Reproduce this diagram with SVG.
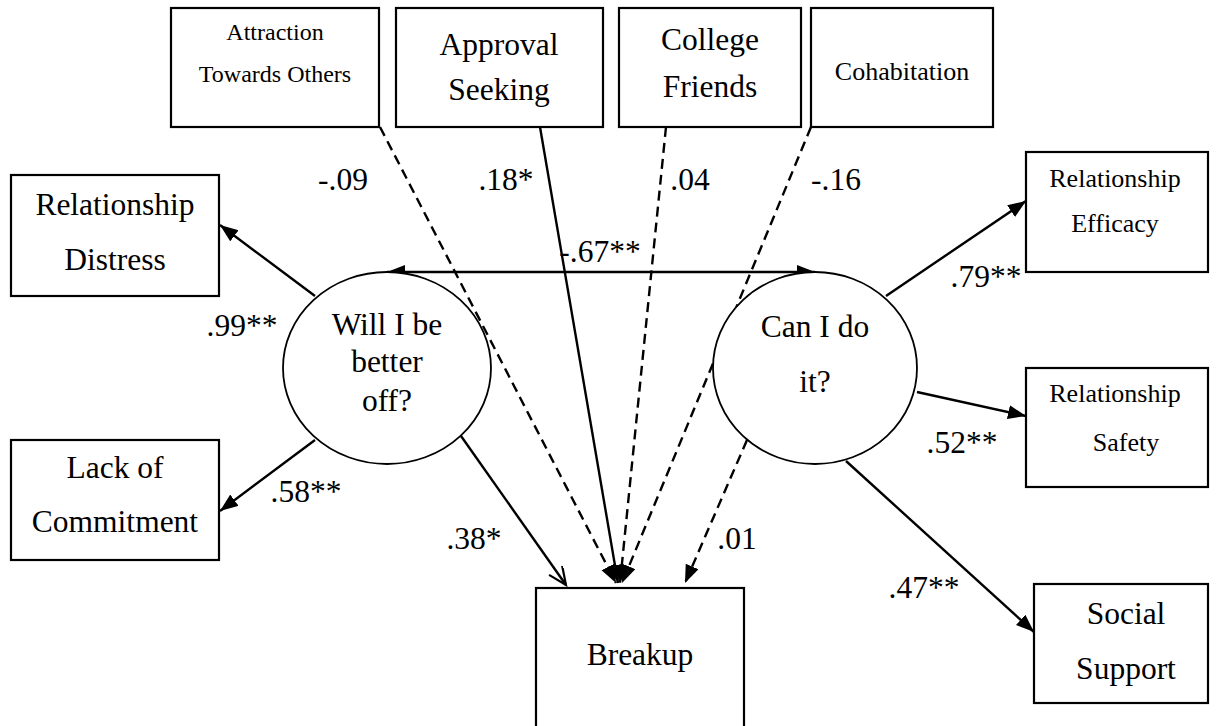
<svg xmlns="http://www.w3.org/2000/svg" width="1216" height="726" viewBox="0 0 1216 726" font-family="'Liberation Serif', 'Times New Roman', 'DejaVu Serif', serif">
<defs>
<style>
text{font-family:'Liberation Serif','Times New Roman','DejaVu Serif',serif;fill:#000;text-anchor:middle}
.big{font-size:31.5px}
.sm{font-size:26px}
.xs{font-size:24px}
.box{fill:#fff;stroke:#000;stroke-width:2.2}
.lat{fill:#fff;stroke:#000;stroke-width:1.8}
.ln{stroke:#000;stroke-width:2.4;fill:none}
.dash{stroke-dasharray:10 6}
</style>
<marker id="ah" markerUnits="userSpaceOnUse" markerWidth="20" markerHeight="16" refX="18" refY="7" orient="auto-start-reverse" viewBox="0 0 20 16">
<path d="M0,0 L18,7 L0,14 z" fill="#000"/>
</marker>
<marker id="open" markerUnits="userSpaceOnUse" markerWidth="22" markerHeight="18" refX="19" refY="8" orient="auto" viewBox="0 0 22 18">
<path d="M1,0 L19,8 L1,16" fill="none" stroke="#000" stroke-width="2.2"/>
</marker>
</defs>
<rect width="1216" height="726" fill="#fff"/>

<g id="connectors">
<line class="ln" x1="387" y1="272" x2="815" y2="272" marker-start="url(#ah)" marker-end="url(#ah)"/>
<line class="ln" x1="315" y1="296" x2="220" y2="225" marker-end="url(#ah)"/>
<line class="ln" x1="315" y1="440" x2="220" y2="511" marker-end="url(#ah)"/>
<line class="ln" x1="461" y1="436" x2="566" y2="585" marker-end="url(#open)"/>
<line class="ln dash" x1="380" y1="127" x2="616" y2="583" marker-end="url(#ah)"/>
<line class="ln" x1="540" y1="127" x2="618" y2="583" marker-end="url(#ah)"/>
<line class="ln dash" x1="666" y1="127" x2="620" y2="583" marker-end="url(#ah)"/>
<line class="ln dash" x1="811" y1="127" x2="622" y2="583" marker-end="url(#ah)"/>
<line class="ln dash" x1="747" y1="440" x2="685" y2="583" marker-end="url(#ah)"/>
<line class="ln" x1="886" y1="296" x2="1026" y2="201" marker-end="url(#ah)"/>
<line class="ln" x1="917" y1="392" x2="1026" y2="416" marker-end="url(#ah)"/>
<line class="ln" x1="846" y1="461" x2="1034" y2="632" marker-end="url(#ah)"/>
</g>

<g id="labels">
<text class="big" x="343" y="190">-.09</text>
<text class="big" x="506" y="190">.18*</text>
<text class="big" x="690" y="190">.04</text>
<text class="big" x="836" y="190">-.16</text>
<text class="big" x="600" y="262">-.67**</text>
<text class="big" x="242" y="336">.99**</text>
<text class="big" x="306" y="502">.58**</text>
<text class="big" x="474" y="549">.38*</text>
<text class="big" x="737" y="549">.01</text>
<text class="big" x="986" y="287">.79**</text>
<text class="big" x="962" y="453">.52**</text>
<text class="big" x="924" y="598">.47**</text>
</g>

<g id="attraction">
<rect class="box" x="171" y="8" width="208" height="119"/>
<text class="xs" x="275" y="40">Attraction</text>
<text class="xs" x="275" y="82">Towards Others</text>
</g>
<g id="approval">
<rect class="box" x="396" y="8" width="207" height="119"/>
<text class="big" x="499" y="55">Approval</text>
<text class="big" x="499" y="100">Seeking</text>
</g>
<g id="college">
<rect class="box" x="619" y="8" width="182" height="119"/>
<text class="big" x="710" y="50">College</text>
<text class="big" x="710" y="97">Friends</text>
</g>
<g id="cohabitation">
<rect class="box" x="811" y="8" width="182" height="119"/>
<text class="sm" x="902" y="80">Cohabitation</text>
</g>
<g id="distress">
<rect class="box" x="11" y="175" width="208" height="121"/>
<text class="big" x="115" y="215">Relationship</text>
<text class="big" x="115" y="270">Distress</text>
</g>
<g id="commitment">
<rect class="box" x="11" y="440" width="208" height="120"/>
<text class="big" x="115" y="478">Lack of</text>
<text class="big" x="115" y="532">Commitment</text>
</g>
<g id="better-off">
<ellipse class="lat" cx="387" cy="368" rx="104" ry="96"/>
<text class="big" x="387" y="335">Will I be</text>
<text class="big" x="387" y="372">better</text>
<text class="big" x="387" y="411">off?</text>
</g>
<g id="can-do">
<ellipse class="lat" cx="815" cy="368" rx="102" ry="96"/>
<text class="big" x="815" y="337">Can I do</text>
<text class="big" x="815" y="392">it?</text>
</g>
<g id="efficacy">
<rect class="box" x="1026" y="152" width="182" height="120"/>
<text class="sm" x="1115" y="187">Relationship</text>
<text class="sm" x="1115" y="232">Efficacy</text>
</g>
<g id="safety">
<rect class="box" x="1026" y="368" width="182" height="119"/>
<text class="sm" x="1115" y="402">Relationship</text>
<text class="sm" x="1126" y="451">Safety</text>
</g>
<g id="social-support">
<rect class="box" x="1034" y="584" width="174" height="119"/>
<text class="big" x="1126" y="624">Social</text>
<text class="big" x="1126" y="679">Support</text>
</g>
<g id="breakup">
<rect class="box" x="536" y="588" width="208" height="150"/>
<text class="big" x="640" y="665">Breakup</text>
</g>
</svg>
